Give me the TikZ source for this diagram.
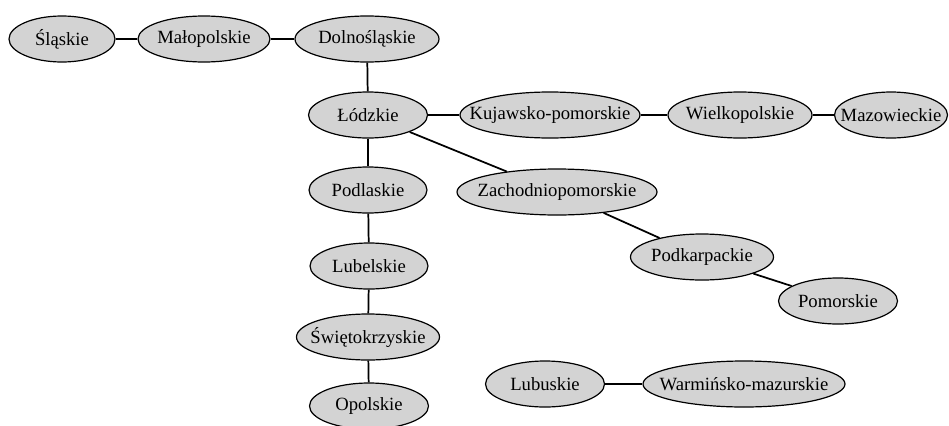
\documentclass[tikz,border=0pt]{standalone}
\usepackage{fontspec}
\setmainfont{Liberation Serif}
\newfontfamily\regfont{Liberation Serif}
\usetikzlibrary{shapes.geometric}
\definecolor{nodefill}{HTML}{D3D3D3}
\tikzset{
  reg/.style={ellipse, draw=black, line width=0.9pt, fill=nodefill, inner sep=0pt,
    minimum height=34.5pt, label={[font=\regfont\fontsize{14pt}{15pt}\selectfont, inner sep=0pt]center:#1}},
  link/.style={line width=1.3pt, draw=black}
}
\begin{document}
\begin{tikzpicture}[x=0.75pt,y=-0.75pt]
\useasboundingbox (0,0) rectangle (949,425);
\node[reg=Śląskie, minimum width=106*0.75pt] (sla) at (62,39) {};
\node[reg=Małopolskie, minimum width=132*0.75pt] (mal) at (204,39) {};
\node[reg=Dolnośląskie, minimum width=144*0.75pt] (dol) at (367,39) {};
\node[reg=Łódzkie, minimum width=119*0.75pt] (lod) at (368,115) {};
\node[reg=Kujawsko-pomorskie, minimum width=180*0.75pt] (kuj) at (550,115) {};
\node[reg=Wielkopolskie, minimum width=144*0.75pt] (wie) at (740,115) {};
\node[reg=Mazowieckie, minimum width=113*0.75pt] (maz) at (891,115) {};
\node[reg=Zachodniopomorskie, minimum width=200*0.75pt] (zac) at (557,192) {};
\node[reg=Podkarpackie, minimum width=143*0.75pt] (pkr) at (702,257) {};
\node[reg=Pomorskie, minimum width=119*0.75pt] (pom) at (838,301) {};
\node[reg=Podlaskie, minimum width=118*0.75pt] (pdl) at (368,190) {};
\node[reg=Lubelskie, minimum width=118*0.75pt] (lub) at (369,266) {};
\node[reg=Świętokrzyskie, minimum width=143*0.75pt] (swi) at (368,337) {};
\node[reg=Opolskie, minimum width=119*0.75pt] (opo) at (369,406) {};
\node[reg=Lubuskie, minimum width=119*0.75pt] (lbs) at (545,384) {};
\node[reg=Warmińsko-mazurskie, minimum width=202*0.75pt] (war) at (744,384) {};
\draw[link] (sla) -- (mal);
\draw[link] (mal) -- (dol);
\draw[link] (dol) -- (lod);
\draw[link] (lod) -- (kuj);
\draw[link] (kuj) -- (wie);
\draw[link] (wie) -- (maz);
\draw[link] (lod) -- (zac);
\draw[link] (zac) -- (pkr);
\draw[link] (pkr) -- (pom);
\draw[link] (lod) -- (pdl);
\draw[link] (pdl) -- (lub);
\draw[link] (lub) -- (swi);
\draw[link] (swi) -- (opo);
\draw[link] (lbs) -- (war);
\end{tikzpicture}
\end{document}
